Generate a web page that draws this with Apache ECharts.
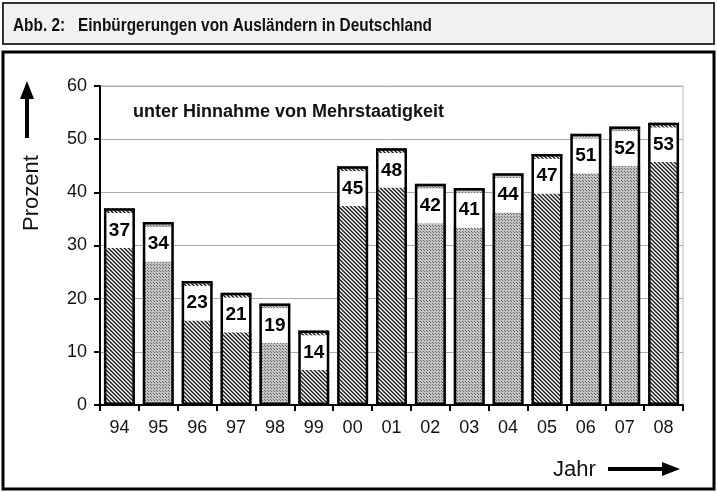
<!DOCTYPE html>
<html>
<head>
<meta charset="utf-8">
<script src="https://cdn.jsdelivr.net/npm/echarts@6/dist/echarts.min.js"></script>
<style>
  html, body { margin: 0; padding: 0; background: #fff; }
  #chart { width: 717px; height: 493px; }
</style>
</head>
<body>
<div id="chart"></div>
<script>
var years = ["94", "95", "96", "97", "98", "99", "00", "01", "02", "03", "04", "05", "06", "07", "08"];
var values = [37.0, 34.4, 23.3, 21.1, 19.1, 14.0, 44.9, 48.3, 41.6, 40.8, 43.6, 47.2, 51.0, 52.4, 53.1];
var labels = [37, 34, 23, 21, 19, 14, 45, 48, 42, 41, 44, 47, 51, 52, 53];
var fills = ["h", "d", "h", "h", "d", "h", "h", "h", "d", "d", "d", "h", "d", "d", "h"];
var yTicks = [0, 10, 20, 30, 40, 50, 60];

// Füllmuster: schraffiert und gepunktet
function makeHatch() {
  var c = document.createElement("canvas");
  c.width = 4; c.height = 4;
  var ctx = c.getContext("2d");
  ctx.fillStyle = "#ffffff";
  ctx.fillRect(0, 0, 4, 4);
  for (var x = 0; x < 4; x++) {
    for (var y = 0; y < 4; y++) {
      var k = (x - y + 4) % 4;
      if (k === 0) { ctx.fillStyle = "#222222"; ctx.fillRect(x, y, 1, 1); }
      if (k === 1) { ctx.fillStyle = "#666666"; ctx.fillRect(x, y, 1, 1); }
      if (k === 3) { ctx.fillStyle = "#aaaaaa"; ctx.fillRect(x, y, 1, 1); }
    }
  }
  return c;
}
function makeDots() {
  var c = document.createElement("canvas");
  c.width = 3; c.height = 3;
  var ctx = c.getContext("2d");
  ctx.fillStyle = "#c4c4c4";
  ctx.fillRect(0, 0, 3, 3);
  ctx.fillStyle = "#666666";
  ctx.fillRect(0, 0, 1, 1);
  ctx.fillRect(1, 1, 1, 1);
  return c;
}
var hatch = { image: makeHatch(), repeat: "repeat" };
var dots = { image: makeDots(), repeat: "repeat" };

var WHITE = 6.5, TOP = 0.9;

function patterned(arr) {
  return arr.map(function (v, i) {
    return { value: v, itemStyle: { color: fills[i] === "h" ? hatch : dots } };
  });
}

var baseData = patterned(values.map(function (v) { return v - WHITE - TOP; }));
var whiteData = values.map(function () { return WHITE; });
var topData = patterned(values.map(function () { return TOP; }));

var FONT = "'Liberation Sans', Arial, sans-serif";

var myChart = echarts.init(document.getElementById("chart"), null, { renderer: "canvas" });
var option;

option = {
  animation: false,
  grid: {
    left: 100,
    top: 86,
    width: 583,
    height: 319,
    show: true,
    borderColor: "#bbbbbb",
    borderWidth: 1,
  },
  graphic: [
    {
      type: "rect",
      shape: { x: 3, y: 3, width: 711, height: 41 },
      style: { fill: "#f2f2f2", stroke: "#333333", lineWidth: 2 },
      z: 0,
    },
    {
      type: "text",
      x: 13,
      y: 26,
      scaleX: 0.81,
      style: {
        text: "Abb. 2:   Einbürgerungen von Ausländern in Deutschland",
        font: "bold 19px " + FONT,
        fill: "#111111",
        verticalAlign: "middle",
      },
    },
    {
      type: "rect",
      shape: { x: 3, y: 52, width: 711, height: 437 },
      style: { fill: "none", stroke: "#000000", lineWidth: 3 },
      z: 0,
    },
    {
      type: "text",
      x: 133,
      y: 112,
      style: {
        text: "unter Hinnahme von Mehrstaatigkeit",
        font: "bold 18px " + FONT,
        fill: "#111111",
        verticalAlign: "middle",
      },
    },
    {
      type: "text",
      x: 32,
      y: 193,
      rotation: Math.PI / 2,
      style: {
        text: "Prozent",
        font: "22px " + FONT,
        fill: "#111111",
        align: "center",
        verticalAlign: "middle",
      },
    },
    {
      type: "polygon",
      shape: { points: [[27, 81], [20, 99], [34, 99]] },
      style: { fill: "#000" },
    },
    {
      type: "rect",
      shape: { x: 25, y: 97, width: 4, height: 41 },
      style: { fill: "#000" },
    },
    {
      type: "text",
      x: 553,
      y: 470,
      style: {
        text: "Jahr",
        font: "22px " + FONT,
        fill: "#111111",
        verticalAlign: "middle",
      },
    },
    {
      type: "rect",
      shape: { x: 608, y: 467, width: 56, height: 4 },
      style: { fill: "#000" },
    },
    {
      type: "polygon",
      shape: { points: [[680, 469], [662, 462], [662, 476]] },
      style: { fill: "#000" },
    },
  ],
  xAxis: {
    type: "category",
    data: years,
    boundaryGap: true,
    axisLine: { lineStyle: { color: "#000", width: 2 } },
    axisTick: { show: true, length: 6, lineStyle: { color: "#000", width: 2 } },
    axisLabel: {
      color: "#111",
      fontSize: 18,
      fontFamily: FONT,
      margin: 14,
      interval: 0,
    },
    splitLine: { show: false },
  },
  yAxis: {
    type: "value",
    min: yTicks[0],
    max: yTicks[yTicks.length - 1],
    interval: 10,
    axisLine: { show: true, lineStyle: { color: "#000", width: 2 } },
    axisTick: { show: true, length: 6, lineStyle: { color: "#000", width: 2 } },
    axisLabel: {
      color: "#111",
      fontSize: 18,
      fontFamily: FONT,
      margin: 13,
    },
    splitLine: { lineStyle: { color: "#aaaaaa", width: 1 } },
  },
  series: [
    {
      name: "base",
      type: "bar",
      stack: "a",
      barWidth: 31,
      barGap: "-100%",
      data: baseData,
    },
    {
      name: "label",
      type: "bar",
      stack: "a",
      barWidth: 31,
      barGap: "-100%",
      itemStyle: { color: "#ffffff" },
      label: {
        show: true,
        position: "inside",
        color: "#000",
        fontSize: 19,
        fontWeight: "bold",
        fontFamily: FONT,
        formatter: function (p) { return labels[p.dataIndex]; },
      },
      data: whiteData,
    },
    {
      name: "top",
      type: "bar",
      stack: "a",
      barWidth: 31,
      barGap: "-100%",
      data: topData,
    },
    {
      name: "outline",
      type: "bar",
      barWidth: 31,
      barGap: "-100%",
      itemStyle: { color: "rgba(0,0,0,0)", borderColor: "#000", borderWidth: 2.5 },
      z: 5,
      data: values,
    },
  ],
};

option && myChart.setOption(option);
window.addEventListener("resize", function () {
  myChart.resize();
});
</script>
</body>
</html>
